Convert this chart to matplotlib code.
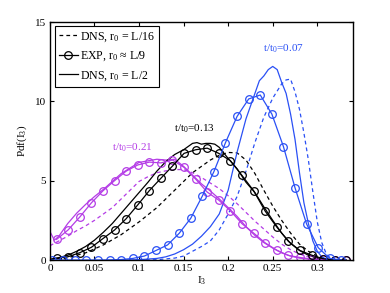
import numpy as np
import matplotlib
matplotlib.use('Agg')
import matplotlib.pyplot as plt

plt.rcParams['font.family'] = ['Liberation Serif', 'DejaVu Serif']
plt.rcParams['mathtext.fontset'] = 'custom'
plt.rcParams['mathtext.rm'] = 'Liberation Serif'
plt.rcParams['mathtext.it'] = 'Liberation Serif:italic'
plt.rcParams['font.size'] = 8

blue = '#2a50f5'
purple = '#b43ce6'

# experiment (circles), t/t0 = 0.07
exp_x_07 = [0.002, 0.015, 0.028, 0.041, 0.054, 0.067, 0.080, 0.093, 0.106, 0.119,
            0.132, 0.145, 0.158, 0.171, 0.184, 0.197, 0.210, 0.223, 0.236, 0.249,
            0.262, 0.275, 0.288, 0.301, 0.314, 0.327]
exp_y_07 = [0, 0, 0, 0, 0, 0.01, 0.03, 0.1, 0.25, 0.6,
            0.95, 1.68, 2.63, 4.03, 5.57, 7.4, 9.05, 10.15, 10.4, 9.2,
            7.15, 4.55, 2.27, 0.78, 0.1, 0]

# experiment, t/t0 = 0.13 and 0.21
exp_x = [0.0075, 0.0205, 0.0335, 0.0465, 0.0595, 0.0725, 0.0855, 0.0985, 0.1115, 0.1245,
         0.1375, 0.1505, 0.1635, 0.1765, 0.1895, 0.2025, 0.2155, 0.2285, 0.2415, 0.2545,
         0.2675, 0.2805, 0.2935, 0.3065, 0.3195, 0.3325]
exp_y_13 = [0.1, 0.21, 0.46, 0.8, 1.35, 1.89, 2.6, 3.47, 4.37, 5.15,
            5.92, 6.72, 6.95, 7.05, 6.72, 6.26, 5.33, 4.37, 3.08, 2.08,
            1.18, 0.6, 0.31, 0.08, 0, 0]
exp_y_21 = [1.3, 1.9, 2.71, 3.6, 4.36, 5.0, 5.6, 5.99, 6.17, 6.12,
            6.3, 5.84, 5.1, 4.28, 3.77, 3.1, 2.29, 1.7, 1.08, 0.62,
            0.29, 0.16, 0.06, 0.04, 0, 0]

# DNS r0 = L/2 (solid)
sol_x_07 = [0.08, 0.10, 0.12, 0.13, 0.14, 0.15, 0.16, 0.17, 0.18, 0.19, 0.20, 0.21,
            0.22, 0.23, 0.235, 0.24, 0.245, 0.25, 0.255, 0.26, 0.265, 0.27, 0.275,
            0.28, 0.285, 0.29, 0.295, 0.30, 0.305, 0.31, 0.32]
sol_y_07 = [0, 0.02, 0.1, 0.2, 0.38, 0.65, 1.0, 1.5, 2.1, 2.9, 4.4, 6.8,
            8.9, 10.5, 11.3, 11.6, 12.0, 12.2, 12.0, 11.2, 10.5, 9.2, 7.6,
            5.5, 3.6, 2.3, 1.2, 0.55, 0.2, 0.05, 0]

sol_x_13 = [0, 0.01, 0.02, 0.03, 0.04, 0.05, 0.06, 0.07, 0.08, 0.09, 0.10, 0.11,
            0.12, 0.13, 0.14, 0.15, 0.16, 0.165, 0.17, 0.175, 0.18, 0.185, 0.19,
            0.20, 0.21, 0.22, 0.23, 0.24, 0.25, 0.26, 0.27, 0.28, 0.29, 0.30, 0.31, 0.32]
sol_y_13 = [0.05, 0.15, 0.3, 0.55, 0.85, 1.25, 1.75, 2.3, 2.95, 3.6, 4.25, 4.9,
            5.6, 6.2, 6.65, 6.95, 7.35, 7.4, 7.3, 7.35, 7.35, 7.3, 7.1,
            6.4, 5.75, 4.9, 4.25, 3.35, 2.5, 1.7, 1.05, 0.6, 0.3, 0.12, 0.03, 0]

sol_x_21 = [0, 0.005, 0.01, 0.02, 0.03, 0.04, 0.05, 0.06, 0.07, 0.08, 0.09, 0.10,
            0.11, 0.12, 0.13, 0.14, 0.15, 0.16, 0.17, 0.18, 0.19, 0.20, 0.21, 0.22,
            0.23, 0.24, 0.25, 0.26, 0.27, 0.28, 0.29, 0.30, 0.31, 0.32]
sol_y_21 = [1.8, 1.25, 1.5, 2.3, 2.95, 3.5, 4.0, 4.45, 4.95, 5.45, 5.8, 6.15,
            6.25, 6.35, 6.3, 6.35, 5.9, 5.35, 4.8, 4.35, 3.85, 3.3, 2.75, 2.1,
            1.55, 1.1, 0.75, 0.45, 0.25, 0.12, 0.06, 0.03, 0.01, 0]

# DNS r0 = L/16 (dashed)
dash_x_07 = [0.10, 0.12, 0.14, 0.15, 0.16, 0.17, 0.18, 0.19, 0.20, 0.21, 0.22, 0.23,
             0.24, 0.25, 0.26, 0.265, 0.27, 0.275, 0.28, 0.285, 0.29, 0.295, 0.30,
             0.305, 0.31, 0.315, 0.32]
dash_y_07 = [0, 0.02, 0.12, 0.25, 0.55, 0.85, 1.2, 1.9, 2.9, 4.0, 5.6, 7.4,
             9.0, 10.2, 11.1, 11.35, 11.4, 10.6, 9.5, 8.0, 6.3, 4.3, 2.4,
             1.1, 0.4, 0.1, 0]

dash_x_13 = [0, 0.02, 0.04, 0.06, 0.08, 0.10, 0.12, 0.14, 0.16, 0.18, 0.19, 0.20,
             0.21, 0.22, 0.23, 0.24, 0.25, 0.26, 0.27, 0.28, 0.29, 0.30, 0.31, 0.32]
dash_y_13 = [0.02, 0.15, 0.45, 0.95, 1.6, 2.4, 3.3, 4.4, 5.5, 6.3, 6.6, 6.78,
             6.75, 6.3, 5.45, 4.4, 3.4, 2.5, 1.7, 1.0, 0.55, 0.25, 0.07, 0]

dash_x_21 = [0, 0.01, 0.02, 0.03, 0.04, 0.05, 0.06, 0.07, 0.08, 0.09, 0.10, 0.11,
             0.12, 0.13, 0.14, 0.15, 0.16, 0.17, 0.18, 0.19, 0.20, 0.21, 0.22, 0.23,
             0.24, 0.25, 0.26, 0.27, 0.28, 0.29, 0.30, 0.31, 0.32]
dash_y_21 = [0.9, 1.2, 1.5, 1.85, 2.15, 2.5, 2.9, 3.3, 3.85, 4.4, 4.95, 5.25,
             5.5, 5.62, 5.7, 5.7, 5.5, 5.2, 4.85, 4.5, 4.05, 3.55, 3.0, 2.45,
             1.95, 1.45, 1.0, 0.65, 0.38, 0.2, 0.1, 0.04, 0]

x_ticks = [0, 0.05, 0.1, 0.15, 0.2, 0.25, 0.3]
x_labels = ['0', '0.05', '0.1', '0.15', '0.2', '0.25', '0.3']
y_ticks = [0, 5, 10, 15]


fig = plt.figure(figsize=(3.9, 2.93), dpi=100)
ax = fig.add_axes([0.128, 0.1126, 0.777, 0.8123])

lw = 0.9
mk = dict(marker='o', markersize=5.5, markerfacecolor='none', markeredgewidth=0.9)

for c, dx, dy in [(purple, dash_x_21, dash_y_21), ('k', dash_x_13, dash_y_13), (blue, dash_x_07, dash_y_07)]:
    ax.plot(dx, dy, '--', color=c, lw=lw, dashes=(3, 2.5))
for c, sx, sy in [(purple, sol_x_21, sol_y_21), ('k', sol_x_13, sol_y_13), (blue, sol_x_07, sol_y_07)]:
    ax.plot(sx, sy, '-', color=c, lw=lw)
ax.plot(exp_x, exp_y_21, '-', color=purple, lw=lw, **mk)
ax.plot(exp_x, exp_y_13, '-', color='k', lw=lw, **mk)
ax.plot(exp_x_07, exp_y_07, '-', color=blue, lw=lw, **mk)

# legend handles
h1, = ax.plot([], [], 'k--', lw=lw, dashes=(3, 2.5))
h2, = ax.plot([], [], 'k-', lw=lw, **mk)
h3, = ax.plot([], [], 'k-', lw=lw)
leg = ax.legend([h1, h2, h3],
                ['DNS, r$_0$ = L/16', 'EXP, r$_0$ \u2248 L/9', 'DNS, r$_0$ = L/2'],
                loc='upper left', bbox_to_anchor=(0.008, 0.993), fontsize=8.6,
                handlelength=1.6, handletextpad=0.2, labelspacing=0.5,
                borderpad=0.35, borderaxespad=0.2, fancybox=False, framealpha=1)
leg.get_frame().set_edgecolor('k')
leg.get_frame().set_linewidth(0.8)

ax.text(0.2615, 13.3, 't/t$_0$=0.07', color=blue, ha='center', va='center', fontsize=8)
ax.text(0.1616, 8.3, 't/t$_0$=0.13', color='k', ha='center', va='center', fontsize=8)
ax.text(0.092, 7.1, 't/t$_0$=0.21', color=purple, ha='center', va='center', fontsize=8)

ax.set_xlim(0, 0.34)
ax.set_ylim(0, 15)
ax.set_xticks(x_ticks)
ax.set_xticklabels(x_labels)
ax.set_yticks(y_ticks)
ax.tick_params(direction='in', top=True, right=True, length=3, width=0.8, labelsize=8, pad=3)
for s in ax.spines.values():
    s.set_linewidth(1.0)
ax.set_xlabel('I$_3$', fontsize=8, labelpad=1)
ax.set_ylabel('Pdf(I$_3$)', fontsize=8, labelpad=4)

fig.savefig('out.png', dpi=100)
